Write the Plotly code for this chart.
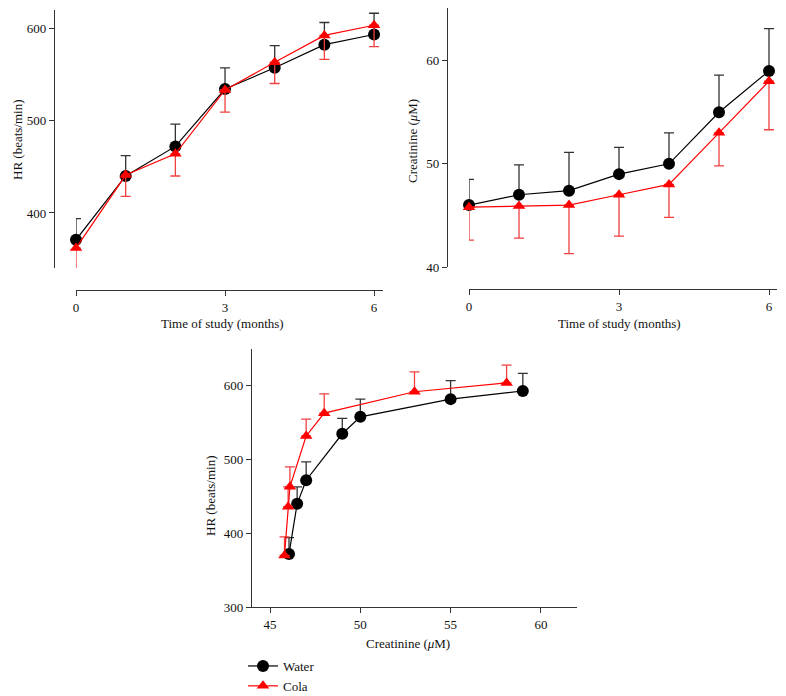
import plotly.graph_objects as go

W, H = 786, 696

months = [0, 1, 2, 3, 4, 5, 6]

# Panel A: HR vs time
hr_water = [371, 440, 472, 534, 557, 582, 593]
hr_water_up = [394, 462, 496, 557, 581, 606, 616]
hr_cola = [362, 441, 464, 533, 563, 592, 603]
hr_cola_low = [335, 418, 440, 509, 540, 566, 580]

# Panel B: creatinine vs time
cr_water = [46.0, 47.0, 47.4, 49.0, 50.0, 55.0, 59.0]
cr_water_up = [48.5, 49.9, 51.1, 51.6, 53.0, 58.6, 63.1]
cr_cola = [45.8, 45.9, 46.0, 47.0, 48.0, 53.0, 58.0]
cr_cola_low = [42.6, 42.8, 41.3, 43.0, 44.8, 49.8, 53.3]

# Panel C: HR vs creatinine
c_water_x = [46.05, 46.5, 47.0, 49.0, 50.0, 55.0, 59.0]
c_water_y = [372, 440, 472, 535, 558, 582, 593]
c_water_up = [394, 463, 497, 556, 582, 607, 617]
c_cola_x = [45.8, 46.0, 46.1, 47.0, 48.0, 53.0, 58.1]
c_cola_y = [370, 436, 463, 532, 563, 592, 604]
c_cola_up = [395, 463, 490, 555, 589, 619, 628]

BLACK = "#000000"
RED = "#ff0000"
ERR_BLACK = "#333333"
ERR_RED = "#f04040"
FONT = "'Liberation Serif', 'DejaVu Serif', serif"

def px(x):
    return x / W

def py(y):
    return 1 - y / H

fig = go.Figure()

def add_series(x, y, up=None, low=None, color=BLACK, ecolor=ERR_BLACK, symbol="circle",
               xa="x", ya="y", name=None, showlegend=False):
    if up is not None:
        err = dict(type="data", symmetric=False,
                   array=[u - v for u, v in zip(up, y)],
                   arrayminus=[0] * len(y), color=ecolor, thickness=1.3, width=5)
    else:
        err = dict(type="data", symmetric=False, array=[0] * len(y),
                   arrayminus=[v - l for v, l in zip(y, low)], color=ecolor,
                   thickness=1.3, width=5)
    fig.add_trace(go.Scatter(
        x=x, y=y, mode="lines+markers", xaxis=xa, yaxis=ya, name=name,
        showlegend=showlegend, cliponaxis=False,
        line=dict(color=color, width=1.2),
        marker=dict(symbol=symbol, size=12 if symbol == "circle" else 11, color=color,
                    line=dict(width=0)),
        error_y=err,
    ))

# Panel A
add_series(months, hr_water, up=hr_water_up, xa="x", ya="y", name="Water", showlegend=True)
add_series(months, hr_cola, low=hr_cola_low, color=RED, ecolor=ERR_RED,
           symbol="triangle-up", xa="x", ya="y", name="Cola", showlegend=True)
# Panel B
add_series(months, cr_water, up=cr_water_up, xa="x2", ya="y2")
add_series(months, cr_cola, low=cr_cola_low, color=RED, ecolor=ERR_RED,
           symbol="triangle-up", xa="x2", ya="y2")
# Panel C
add_series(c_water_x, c_water_y, up=c_water_up, xa="x3", ya="y3")
add_series(c_cola_x, c_cola_y, up=c_cola_up, color=RED, ecolor=ERR_RED,
           symbol="triangle-up", xa="x3", ya="y3")

tickfont = dict(family=FONT, size=13, color="#111111")
axcommon = dict(showgrid=False, zeroline=False, showline=True, linecolor="#333333",
                linewidth=1.3, ticks="outside", ticklen=5, tickcolor="#333333",
                tickwidth=1.3, tickfont=tickfont, automargin=False)

fig.update_layout(
    width=W, height=H, autosize=False,
    margin=dict(l=0, r=0, t=0, b=0, autoexpand=False),
    paper_bgcolor="white", plot_bgcolor="white",
    # Panel A
    xaxis=dict(domain=[px(76), px(383)], range=[0, 6.18], anchor="free",
               position=py(290), tickvals=[0, 3, 6], **axcommon),
    yaxis=dict(domain=[py(268), py(10)], range=[340.5, 619.5], anchor="free",
               position=px(54), tickvals=[400, 500, 600], **axcommon),
    # Panel B
    xaxis2=dict(domain=[px(469), px(777)], range=[0, 6.16], anchor="free",
                position=py(289), tickvals=[0, 3, 6], **axcommon),
    yaxis2=dict(domain=[py(267), py(8)], range=[40, 65.1], anchor="free",
                position=px(447), tickvals=[40, 50, 60], **axcommon),
    # Panel C
    xaxis3=dict(domain=[px(252), px(577)], range=[44, 62], anchor="y3",
                tickvals=[45, 50, 55, 60], **axcommon),
    yaxis3=dict(domain=[py(607), py(349)], range=[300, 650], anchor="x3",
                tickvals=[300, 400, 500, 600], **axcommon),
    legend=dict(x=px(243), y=py(651), xanchor="left", yanchor="top",
                font=dict(family=FONT, size=13, color="#111111"),
                bgcolor="rgba(0,0,0,0)", tracegroupgap=0, itemwidth=30),
    showlegend=True,
)

titlefont = dict(family=FONT, size=13, color="#111111")
annots = [
    dict(text="Time of study (months)", x=px(222), y=py(324)),
    dict(text="HR (beats/min)", x=px(17), y=py(140), textangle=-90),
    dict(text="Time of study (months)", x=px(619), y=py(324)),
    dict(text="Creatinine (<i>μ</i>M)", x=px(412), y=py(141), textangle=-90),
    dict(text="Creatinine (<i>μ</i>M)", x=px(408), y=py(643)),
    dict(text="HR (beats/min)", x=px(210), y=py(496), textangle=-90),
]
for a in annots:
    fig.add_annotation(xref="paper", yref="paper", showarrow=False,
                       xanchor="center", yanchor="middle", font=titlefont, **a)

fig.write_html(
    "out.html",
    config={"displayModeBar": False},
    post_script="document.body.style.margin='0';document.body.style.overflow='hidden';",
)
